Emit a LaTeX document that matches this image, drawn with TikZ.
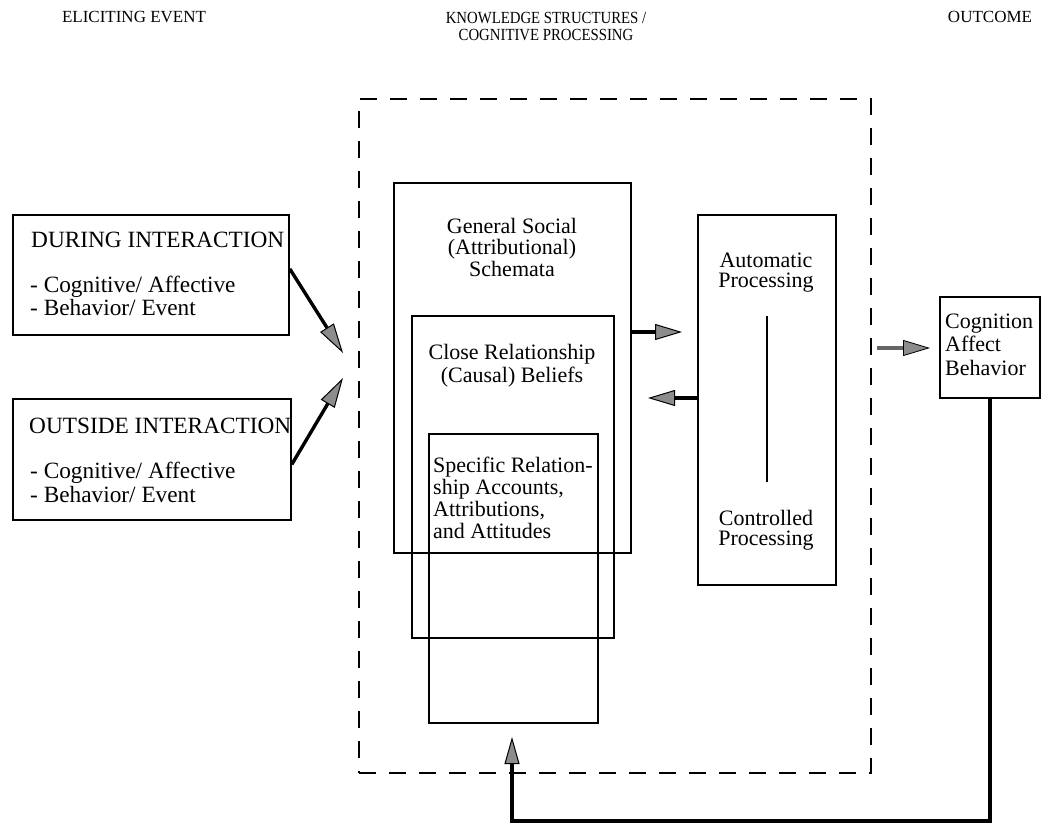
\documentclass[tikz,border=0pt]{standalone}
\usepackage{fontspec}
\setmainfont{Liberation Serif}
\usetikzlibrary{arrows.meta,calc}
\begin{document}
\begin{tikzpicture}[x=1pt,y=-1pt,
  box/.style={draw, line width=1.8pt, inner sep=0pt, anchor=north west},
  txt/.style={font=\fontsize{22}{22}\selectfont, inner sep=0pt, align=center, anchor=base},
  ltxt/.style={font=\fontsize{22}{22}\selectfont, inner sep=0pt, align=left, anchor=base west},
  ttl/.style={font=\fontsize{17}{18}\selectfont, inner sep=0pt, align=center, anchor=base},
  bigarrow/.style={line width=3.4pt, -{Triangle[length=30pt,width=16pt,fill=black!45,line width=1pt]}},
  midarrow/.style={line width=3.2pt, -{Triangle[length=27pt,width=16pt,fill=black!45,line width=1pt]}},
  dasharrow/.style={line width=3.4pt, draw=black!60, -{Triangle[length=27pt,width=16pt,color=black,fill=black!45,line width=0.8pt]}},
  fbline/.style={line width=3.4pt, -{Triangle[length=27pt,width=15pt,fill=black!45,line width=1pt]}}]
\useasboundingbox (0,0) rectangle (1046,824);

% titles
\node[ttl] (t1) at (134,23) {ELICITING EVENT};
\node[ttl] (t2) at (546,41) {\scalebox{0.87}[1]{\begin{tabular}[b]{@{}c@{}}KNOWLEDGE STRUCTURES /\\[-1pt]COGNITIVE PROCESSING\end{tabular}}};
\node[ttl] (t3) at (990,23) {OUTCOME};

% dashed frame
\node[draw, dash pattern=on 17pt off 13pt, line width=2pt, inner sep=0pt, anchor=north west,
      minimum width=512pt, minimum height=674pt] (frame) at (358,98) {};

% left boxes
\node[box, minimum width=276pt, minimum height=120pt] (during) at (12,214) {};
\node[ltxt, font=\fontsize{23.3}{23}\selectfont] (duringtxt) at (31,247) {DURING INTERACTION};
\node[ltxt, font=\fontsize{23.3}{23}\selectfont] (duringlist) at (30,315) {- Cognitive/ Affective\\- Behavior/ Event};

\node[box, minimum width=278pt, minimum height=121pt] (outside) at (12,398) {};
\node[ltxt, font=\fontsize{23.3}{23}\selectfont] (outsidetxt) at (29,433) {OUTSIDE INTERACTION};
\node[ltxt, font=\fontsize{23.3}{24}\selectfont] (outsidelist) at (30,502) {- Cognitive/ Affective\\- Behavior/ Event};

% nested boxes
\node[box, minimum width=237pt, minimum height=370pt] (gs) at (393,182) {};
\node[box, minimum width=202pt, minimum height=322pt] (cr) at (411,315) {};
\node[box, minimum width=169pt, minimum height=289pt] (sr) at (428,433) {};
\node[txt, font=\fontsize{22}{21.5}\selectfont] (gstxt) at (512,276) {General Social\\(Attributional)\\Schemata};
\node[txt, font=\fontsize{22}{23}\selectfont] (crtxt) at (512,382) {Close Relationship\\(Causal) Beliefs};
\node[ltxt, font=\fontsize{22}{21.7}\selectfont] (srtxt) at (433,538) {Specific Relation-\\ship Accounts,\\Attributions,\\and Attitudes};

% processing box
\node[box, minimum width=138pt, minimum height=370pt] (auto) at (697,214) {};
\node[txt, font=\fontsize{22}{20}\selectfont] (autotxt) at (766,287) {Automatic\\Processing};
\node[txt, font=\fontsize{22}{20}\selectfont] (ctrltxt) at (766,545) {Controlled\\Processing};
\coordinate (ltop) at (767,316);
\coordinate (lbot) at (767,482);
\draw[line width=1.8pt] (ltop) -- (lbot);

% outcome box
\node[box, minimum width=100pt, minimum height=101pt] (cog) at (939,296) {};
\node[ltxt, font=\fontsize{22}{23.5}\selectfont] (cogtxt) at (945,375) {Cognition\\Affect\\Behavior};

% connectors
\coordinate (in1) at (343,353);
\coordinate (in2) at (343,378);
\draw[bigarrow] ([yshift=6pt]during.east) -- (in1);
\draw[bigarrow] ([yshift=-5pt]outside.east) -- (in2);

\coordinate (r1) at (682,332);
\coordinate (l1) at (648,398);
\draw[midarrow] (gs.east |- r1) -- (r1);
\draw[midarrow] (auto.west |- l1) -- (l1);

\coordinate (o1) at (877,348);
\coordinate (o2) at (930,348);
\draw[dasharrow] (o1) -- (o2);

\coordinate (fbtip) at (512,737);
\coordinate (fbcorner) at (512,821);
\draw[fbline] (cog.south) |- (fbcorner) -- (fbtip);
\end{tikzpicture}
\end{document}
